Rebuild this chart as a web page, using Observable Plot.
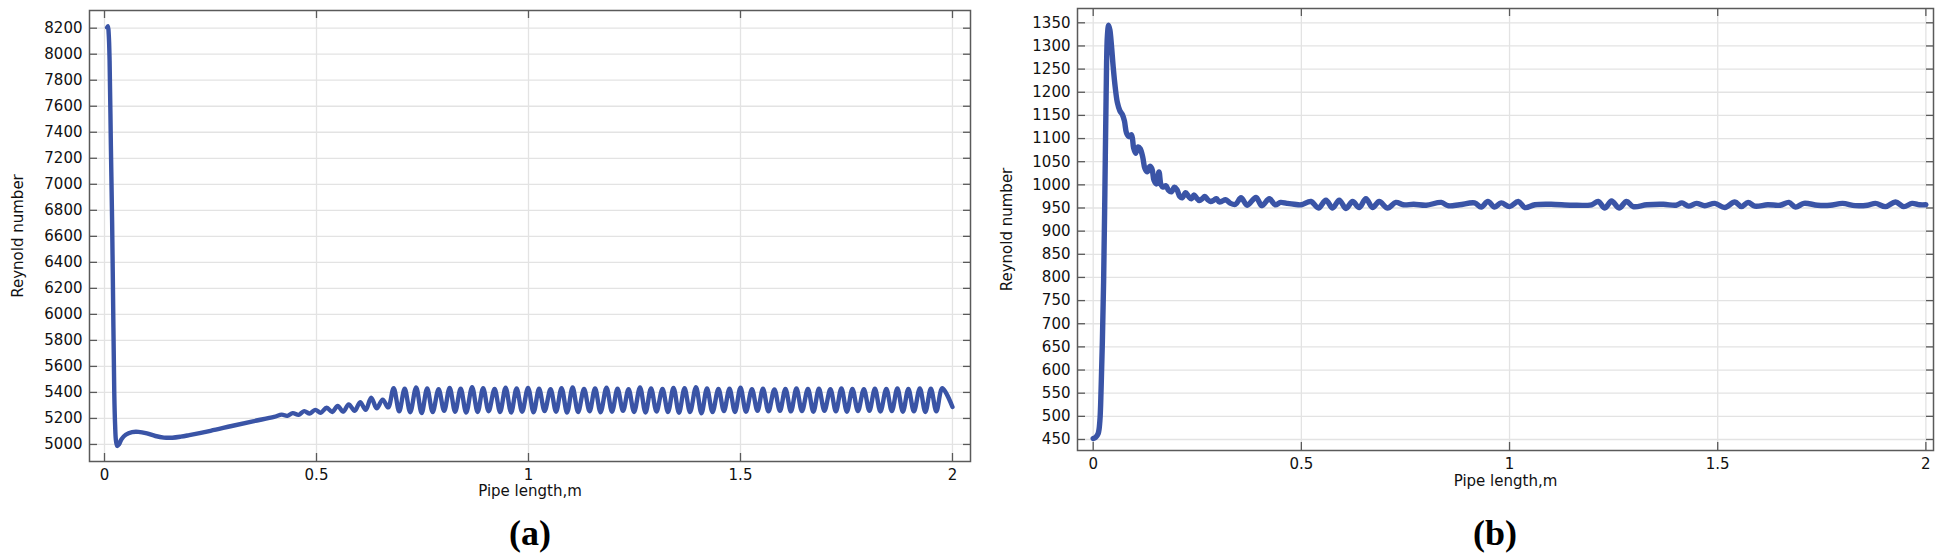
<!DOCTYPE html>
<html><head><meta charset="utf-8">
<script src="https://cdn.jsdelivr.net/npm/d3@7"></script>
<script src="https://cdn.jsdelivr.net/npm/@observablehq/plot@0.6"></script>
<style>
html,body{margin:0;padding:0;background:#fff;}
#wrap{position:relative;width:1945px;height:558px;overflow:hidden;font-family:"DejaVu Sans",sans-serif;}
.panel{position:absolute;top:0;}
.cap{position:absolute;font-family:"Liberation Serif","Times New Roman",serif;font-weight:bold;font-size:36px;transform:translate(-50%,-50%);color:#000;line-height:1;}
</style></head><body>
<div id="wrap"></div>
<script>
// ---------- data ----------
const xTicks = [0, 0.5, 1, 1.5, 2];
const yTicksA = [5000, 5200, 5400, 5600, 5800, 6000, 6200, 6400, 6600, 6800, 7000, 7200, 7400, 7600, 7800, 8000, 8200];
const yTicksB = [450, 500, 550, 600, 650, 700, 750, 800, 850, 900, 950, 1000, 1050, 1100, 1150, 1200, 1250, 1300, 1350];
const xLabel = "Pipe length,m";
const yLabel = "Reynold number";
const captions = ["(a)", "(b)"];

// (a) Reynold number along the pipe
const pipeA = [0.006, 0.008, 0.010, 0.012, 0.015, 0.018, 0.021, 0.023, 0.025, 0.027, 0.030, 0.034, 0.040, 0.050, 0.065, 0.080, 0.100, 0.120, 0.140, 0.160, 0.180, 0.200, 0.250, 0.300, 0.350, 0.400,
  0.418, 0.431, 0.444, 0.458, 0.471, 0.484, 0.497, 0.510, 0.524, 0.537, 0.550, 0.563, 0.576, 0.590, 0.603, 0.616, 0.629, 0.642, 0.656, 0.669,
  0.682, 0.695, 0.708, 0.721, 0.735, 0.748, 0.761, 0.774, 0.788, 0.801, 0.814, 0.827, 0.840, 0.853, 0.867, 0.880, 0.893, 0.906, 0.920, 0.933, 0.946, 0.959, 0.972, 0.985,
  0.999, 1.012, 1.025, 1.038, 1.052, 1.065, 1.078, 1.091, 1.104, 1.117, 1.131, 1.144, 1.157, 1.170, 1.184, 1.197, 1.210, 1.223, 1.236, 1.249, 1.263, 1.276, 1.289, 1.302, 1.316, 1.329, 1.342, 1.355, 1.368, 1.381, 1.395, 1.408, 1.421, 1.434, 1.448, 1.461, 1.474, 1.487,
  1.500, 1.513, 1.527, 1.540, 1.553, 1.566, 1.580, 1.593, 1.606, 1.619, 1.632, 1.645, 1.659, 1.672, 1.685, 1.698, 1.712, 1.725, 1.738, 1.751, 1.764, 1.777, 1.791, 1.804, 1.817, 1.830, 1.844, 1.857, 1.870, 1.883, 1.896, 1.909, 1.923, 1.936, 1.949, 1.962, 1.976, 2.000];
const reA = [8205, 8215, 8150, 7950, 7300, 6700, 5900, 5400, 5150, 5030, 4988, 5000, 5040, 5075, 5095, 5097, 5085, 5065, 5053, 5052, 5060, 5072, 5105, 5142, 5178, 5212,
  5229, 5220, 5241, 5228, 5256, 5238, 5266, 5244, 5282, 5250, 5296, 5252, 5308, 5258, 5325, 5266, 5360, 5278, 5345, 5285,
  5432, 5255, 5428, 5248, 5438, 5242, 5430, 5250, 5425, 5258, 5435, 5252, 5428, 5245, 5440, 5250, 5433, 5255, 5426, 5250, 5437, 5246, 5430, 5252,
  5435, 5248, 5428, 5256, 5424, 5252, 5433, 5245, 5438, 5250, 5426, 5255, 5430, 5248, 5436, 5252, 5428, 5258, 5425, 5250, 5438, 5246, 5430, 5253, 5427, 5250, 5435, 5244, 5432, 5250, 5440, 5240, 5430, 5250, 5426, 5256, 5428, 5250,
  5436, 5252, 5425, 5258, 5428, 5255, 5423, 5258, 5427, 5254, 5430, 5256, 5426, 5252, 5428, 5258, 5424, 5255, 5430, 5252, 5427, 5256, 5425, 5258, 5429, 5253, 5426, 5256, 5430, 5252, 5427, 5255, 5431, 5250, 5428, 5254, 5432, 5288];

// (b) Reynold number along the pipe
const pipeB = [0.000, 0.006, 0.012, 0.016, 0.019, 0.022, 0.025, 0.028, 0.031, 0.034, 0.037, 0.040, 0.044, 0.048, 0.053, 0.058, 0.064, 0.070, 0.075, 0.080, 0.086, 0.092, 0.097, 0.102, 0.108, 0.113, 0.119, 0.124, 0.130, 0.136, 0.141, 0.146, 0.152, 0.158, 0.163, 0.168, 0.175, 0.181, 0.188, 0.195, 0.201, 0.208, 0.214, 0.222, 0.229, 0.236, 0.242, 0.248, 0.255, 0.262, 0.268, 0.275, 0.282, 0.290, 0.296, 0.303, 0.310, 0.318,
  0.330, 0.342, 0.355, 0.370, 0.391, 0.405, 0.423, 0.437, 0.450, 0.465, 0.483, 0.500, 0.523, 0.541, 0.559, 0.575, 0.591, 0.607, 0.623, 0.639, 0.655, 0.671, 0.687, 0.707, 0.727, 0.745, 0.770, 0.800, 0.836, 0.852, 0.880, 0.916, 0.932, 0.948, 0.964, 0.980,
  1.000, 1.021, 1.037, 1.061, 1.100, 1.150, 1.197, 1.213, 1.229, 1.245, 1.263, 1.281, 1.297, 1.330, 1.370, 1.400, 1.414, 1.430, 1.449, 1.469, 1.493, 1.517, 1.541, 1.557, 1.573, 1.589, 1.620, 1.650, 1.671, 1.687, 1.707, 1.740, 1.770, 1.800, 1.830, 1.860, 1.879, 1.903, 1.927, 1.947, 1.967, 1.985, 2.000];
const reB = [452, 455, 463, 490, 560, 660, 790, 980, 1190, 1320, 1345, 1335, 1300, 1255, 1210, 1178, 1160, 1152, 1138, 1112, 1104, 1108, 1080, 1068, 1082, 1078, 1060, 1036, 1028, 1040, 1035, 1010, 1002, 1028, 1000, 995, 998, 988, 985, 995, 990, 975, 972, 983, 975, 970, 978, 972, 966, 970, 975, 968, 964, 967, 970, 963, 965, 968,
  960, 958, 972, 956, 973, 955, 970, 957, 962, 960, 958, 957, 964, 950, 967, 950, 967, 949, 964, 951, 970, 951, 964, 950, 962, 957, 958, 956, 962, 955, 957, 961, 952, 964, 952, 961,
  953, 964, 951, 957, 958, 956, 957, 964, 950, 965, 950, 964, 953, 957, 958, 956, 961, 954, 960, 955, 960, 951, 963, 953, 962, 954, 957, 956, 962, 952, 960, 956, 956, 960, 955, 956, 960, 953, 963, 953, 960, 957, 957];

// ---------- drawing ----------
const lineColor = "#3a54a6";
const frameColor = "#5a5a5a";
const gridColor = "#e3e3e3";

function panel(o) {
  const innerW = o.W - o.mL - o.mR;
  const innerH = o.H - o.mT - o.mB;
  const data = o.xs.map((x, i) => ({x, y: o.ys[i]}));
  const fmt = d => String(d);
  return Plot.plot({
    width: o.W, height: o.H,
    marginLeft: o.mL, marginRight: o.mR, marginTop: o.mT, marginBottom: o.mB,
    style: {fontFamily: "DejaVu Sans, sans-serif", fontSize: "15px", color: "#111", background: "transparent"},
    x: {domain: o.dx, ticks: xTicks, tickFormat: fmt},
    y: {domain: o.dy, ticks: o.ty, tickFormat: fmt},
    marks: [
      Plot.gridX(xTicks, {stroke: gridColor, strokeOpacity: 1, strokeWidth: 1.3}),
      Plot.gridY(o.ty, {stroke: gridColor, strokeOpacity: 1, strokeWidth: 1.3}),
      Plot.tickX(xTicks, {x: d => d, insetTop: innerH - 8, stroke: frameColor, strokeWidth: 1.3}),
      Plot.tickX(xTicks, {x: d => d, insetBottom: innerH - 8, stroke: frameColor, strokeWidth: 1.3}),
      Plot.tickY(o.ty, {y: d => d, insetRight: innerW - 8, stroke: frameColor, strokeWidth: 1.3}),
      Plot.tickY(o.ty, {y: d => d, insetLeft: innerW - 7, stroke: frameColor, strokeWidth: 1.3}),
      Plot.frame({stroke: frameColor, strokeWidth: 1.5}),
      Plot.axisX(xTicks, {anchor: "bottom", tickSize: 0, tickPadding: o.xPad, fontSize: 15, label: null, tickFormat: fmt}),
      Plot.axisY(o.ty, {anchor: "left", tickSize: 0, tickPadding: 7, fontSize: 15, label: null, tickFormat: fmt}),
      Plot.text([xLabel], {frameAnchor: "bottom", textAnchor: "middle", lineAnchor: "middle", dy: o.xLabDy, fontSize: 15, fill: "#111"}),
      Plot.text([yLabel], {frameAnchor: "left", textAnchor: "middle", lineAnchor: "middle", rotate: -90, dx: o.yLabDx, fontSize: 15, fill: "#111"}),
      Plot.line(data, {x: "x", y: "y", stroke: lineColor, strokeWidth: o.sw, curve: "catmull-rom", strokeLinecap: "round", strokeLinejoin: "round"})
    ]
  });
}

const wrap = document.getElementById("wrap");

const a = panel({W: 985, H: 500, mL: 89, mR: 15, mT: 10, mB: 39,
  dx: [-0.0354, 2.0425], dy: [4869, 8336], ty: yTicksA, xs: pipeA, ys: reA,
  sw: 4.4, xPad: 8, xLabDy: 30, yLabDx: -71});
const da = document.createElement("div"); da.className = "panel"; da.style.left = "0px"; da.appendChild(a); wrap.appendChild(da);

const b = panel({W: 955, H: 500, mL: 87, mR: 12, mT: 8, mB: 50,
  dx: [-0.0377, 2.0183], dy: [426.2, 1380.9], ty: yTicksB, xs: pipeB, ys: reB,
  sw: 5.4, xPad: 8, xLabDy: 31, yLabDx: -70});
const db = document.createElement("div"); db.className = "panel"; db.style.left = "990px"; db.appendChild(b); wrap.appendChild(db);

[[captions[0], 530], [captions[1], 1495]].forEach(([t, x]) => {
  const c = document.createElement("div");
  c.className = "cap"; c.textContent = t;
  c.style.left = x + "px"; c.style.top = "533px";
  wrap.appendChild(c);
});
</script>
</body></html>
